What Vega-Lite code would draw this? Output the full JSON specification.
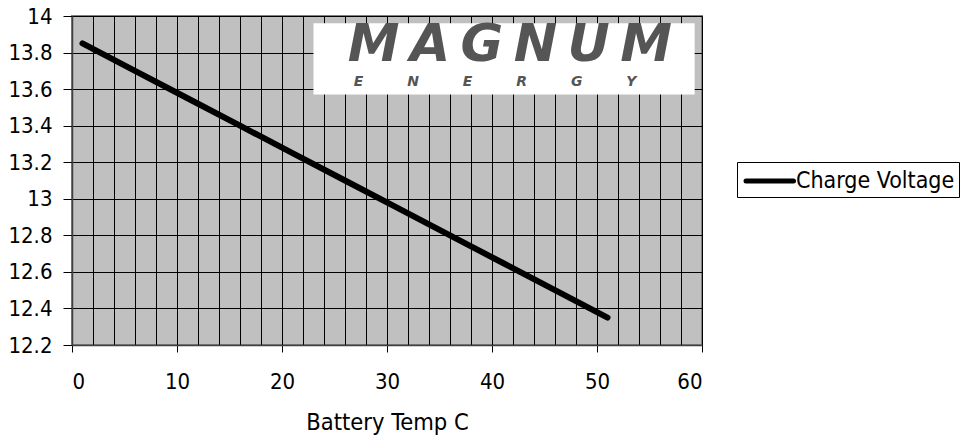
{
  "$schema": "https://vega.github.io/schema/vega-lite/v6.json",
  "width": 630,
  "height": 329,
  "autosize": "none",
  "padding": {"left": 72, "top": 16, "right": 264, "bottom": 94},
  "background": "white",
  "config": {
    "view": {"fill": "#c0c0c0", "stroke": "#808080", "strokeWidth": 2},
    "font": "DejaVu Sans Condensed, DejaVu Sans",
    "axis": {
      "labelFont": "DejaVu Sans Condensed, DejaVu Sans",
      "labelFontSize": 22,
      "labelColor": "black",
      "labelOverlap": false,
      "titleFont": "DejaVu Sans Condensed, DejaVu Sans",
      "titleFontSize": 23.5,
      "titleColor": "black",
      "titleFontWeight": "normal",
      "domainColor": "#404040",
      "domainWidth": 1.5,
      "tickColor": "black",
      "tickWidth": 1,
      "gridColor": "black",
      "gridOpacity": 1,
      "gridWidth": 1
    },
    "legend": {
      "labelFont": "DejaVu Sans Condensed, DejaVu Sans",
      "labelFontSize": 23,
      "labelColor": "black",
      "labelLimit": 400
    }
  },
  "resolve": {"axis": {"x": "independent"}},
  "layer": [
    {
      "data": {"values": [{}]},
      "mark": {"type": "rect", "fill": "white"},
      "encoding": {
        "x": {
          "datum": 23,
          "type": "quantitative",
          "scale": {"domain": [0, 60], "nice": false},
          "axis": {
            "orient": "top",
            "values": [0, 2, 4, 6, 8, 10, 12, 14, 16, 18, 20, 22, 24, 26, 28, 30, 32, 34, 36, 38, 40, 42, 44, 46, 48, 50, 52, 54, 56, 58, 60],
            "grid": true,
            "labels": false,
            "ticks": false,
            "domain": false,
            "title": null
          }
        },
        "x2": {"datum": 59.3},
        "y": {
          "datum": 13.57,
          "type": "quantitative",
          "scale": {"domain": [12.2, 14], "nice": false},
          "axis": {
            "values": [12.2, 12.4, 12.6, 12.8, 13, 13.2, 13.4, 13.6, 13.8, 14],
            "format": ".1~f",
            "grid": true,
            "tickSize": 9,
            "labelPadding": 11,
            "labelOverlap": false,
            "title": null
          }
        },
        "y2": {"datum": 13.96}
      }
    },
    {
      "data": {"values": [{}]},
      "mark": {
        "type": "text",
        "text": "M\u2009A\u2009G\u2009N\u2009U\u2009M",
        "font": "DejaVu Sans",
        "fontSize": 52,
        "fontWeight": "bold",
        "fontStyle": "italic",
        "fill": "#555555",
        "align": "center",
        "baseline": "middle"
      },
      "encoding": {
        "x": {"datum": 41.7, "type": "quantitative", "axis": null},
        "y": {
          "datum": 13.84,
          "type": "quantitative",
          "axis": {
            "values": [12.2, 12.4, 12.6, 12.8, 13, 13.2, 13.4, 13.6, 13.8, 14],
            "format": ".1~f",
            "grid": true,
            "tickSize": 9,
            "labelPadding": 11,
            "labelOverlap": false,
            "title": null
          }
        }
      }
    },
    {
      "data": {"values": [{}]},
      "mark": {
        "type": "text",
        "text": "E\u00a0\u00a0\u00a0\u00a0\u00a0\u00a0\u00a0\u00a0\u00a0N\u00a0\u00a0\u00a0\u00a0\u00a0\u00a0\u00a0\u00a0\u00a0E\u00a0\u00a0\u00a0\u00a0\u00a0\u00a0\u00a0\u00a0\u00a0R\u00a0\u00a0\u00a0\u00a0\u00a0\u00a0\u00a0\u00a0\u00a0G\u00a0\u00a0\u00a0\u00a0\u00a0\u00a0\u00a0\u00a0\u00a0Y",
        "font": "DejaVu Sans",
        "fontSize": 14,
        "fontWeight": "bold",
        "fontStyle": "italic",
        "fill": "#555555",
        "align": "center",
        "baseline": "middle"
      },
      "encoding": {
        "x": {"datum": 40.3, "type": "quantitative", "axis": null},
        "y": {
          "datum": 13.637,
          "type": "quantitative",
          "axis": {
            "values": [12.2, 12.4, 12.6, 12.8, 13, 13.2, 13.4, 13.6, 13.8, 14],
            "format": ".1~f",
            "grid": true,
            "tickSize": 9,
            "labelPadding": 11,
            "labelOverlap": false,
            "title": null
          }
        }
      }
    },
    {
      "data": {
        "values": [
          {"temp": 1, "voltage": 13.85, "series": "Charge Voltage"},
          {"temp": 6, "voltage": 13.70, "series": "Charge Voltage"},
          {"temp": 11, "voltage": 13.55, "series": "Charge Voltage"},
          {"temp": 16, "voltage": 13.40, "series": "Charge Voltage"},
          {"temp": 21, "voltage": 13.25, "series": "Charge Voltage"},
          {"temp": 26, "voltage": 13.10, "series": "Charge Voltage"},
          {"temp": 31, "voltage": 12.95, "series": "Charge Voltage"},
          {"temp": 36, "voltage": 12.80, "series": "Charge Voltage"},
          {"temp": 41, "voltage": 12.65, "series": "Charge Voltage"},
          {"temp": 46, "voltage": 12.50, "series": "Charge Voltage"},
          {"temp": 51, "voltage": 12.35, "series": "Charge Voltage"}
        ]
      },
      "mark": {"type": "line", "strokeWidth": 6, "strokeCap": "round", "strokeJoin": "round"},
      "encoding": {
        "x": {
          "field": "temp",
          "type": "quantitative",
          "axis": {
            "orient": "bottom",
            "values": [0, 10, 20, 30, 40, 50, 60],
            "grid": false,
            "tickSize": 7,
            "labelPadding": 19,
            "title": "Battery Temp C",
            "titlePadding": 18
          }
        },
        "y": {
          "field": "voltage",
          "type": "quantitative",
          "axis": {
            "values": [12.2, 12.4, 12.6, 12.8, 13, 13.2, 13.4, 13.6, 13.8, 14],
            "format": ".1~f",
            "grid": true,
            "tickSize": 9,
            "labelPadding": 11,
            "labelOverlap": false,
            "title": null
          }
        },
        "color": {
          "field": "series",
          "type": "nominal",
          "scale": {"range": ["black"]},
          "legend": {
            "title": null,
            "orient": "none",
            "legendX": 665,
            "legendY": 146,
            "symbolType": "M-0.8,0H3",
            "symbolSize": 625,
            "symbolStrokeWidth": 5,
            "labelOffset": 25,
            "padding": 4,
            "strokeColor": "black",
            "fillColor": "white",
            "encode": {"symbols": {"update": {"strokeCap": {"value": "round"}}}}
          }
        }
      }
    }
  ]
}
